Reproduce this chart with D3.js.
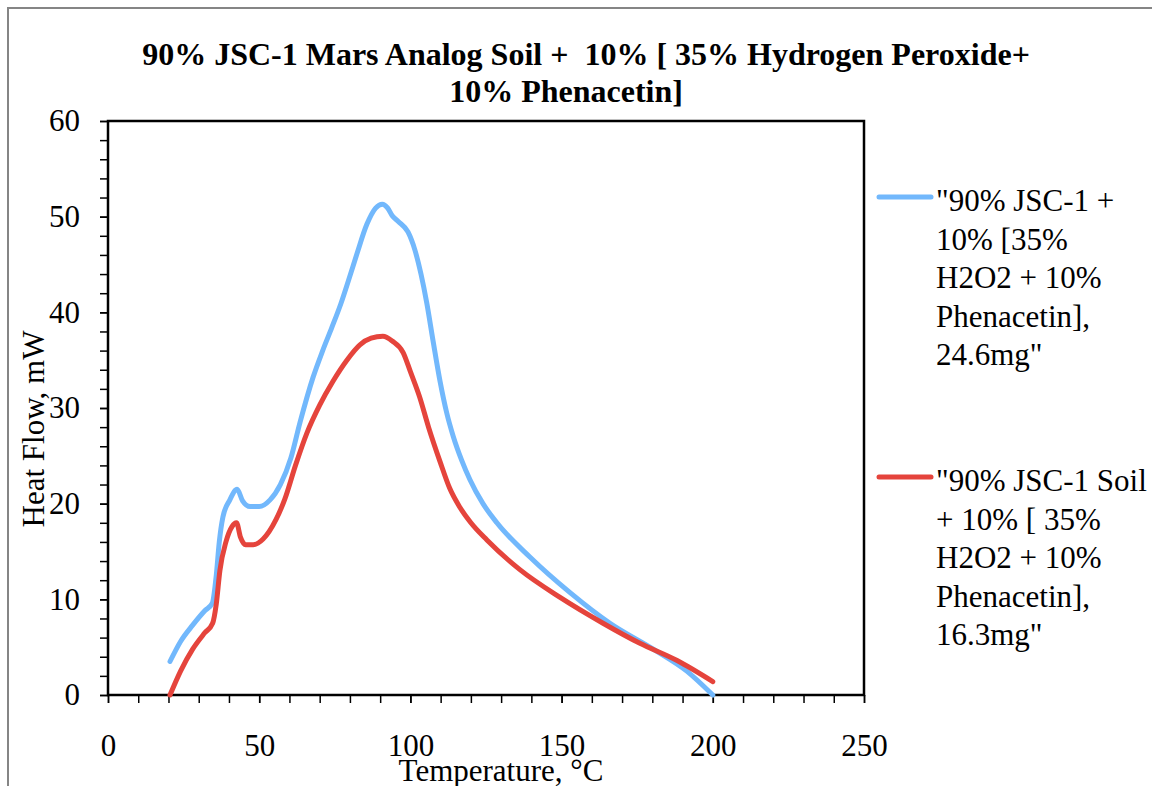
<!DOCTYPE html>
<html><head><meta charset="utf-8">
<script src="https://cdn.jsdelivr.net/npm/d3@7"></script>
<style>body{margin:0;background:#fff}svg{display:block}text{font-family:"Liberation Serif","Times New Roman",serif}</style>
</head><body>
<svg id="c" width="1152" height="786"></svg>
<script>
const titleLines = ["90% JSC-1 Mars Analog Soil +  10% [ 35% Hydrogen Peroxide+", "10% Phenacetin]"];
const xLabel = "Temperature, °C";
const yLabel = "Heat Flow, mW";
const xMajorTicks = [0, 50, 100, 150, 200, 250];
const yMajorTicks = [0, 10, 20, 30, 40, 50, 60];
const legendBlue = ["\"90% JSC-1 +", "10% [35%", "H2O2 + 10%", "Phenacetin],", "24.6mg\""];
const legendRed = ["\"90% JSC-1 Soil", "+ 10% [ 35%", "H2O2 + 10%", "Phenacetin],", "16.3mg\""];
const blueT = [20.5,24,28,32,34.5,35.8,36.8,38,40.3,42.7,44.5,47,50,53.6,57,60.5,63.5,67.8,71,74,77,80,82.3,85.6,88.5,90.7,92.5,94,96,99.2,101.5,103.5,105.4,107.5,109.8,112,114.2,117,119.7,124,128.6,139.6,152.8,166,180.3,191.4,200];
const blueH = [3.5,5.6,7.3,8.8,9.6,12.5,16,18.6,20.4,21.5,20.3,19.7,19.7,20.4,22,24.8,28.5,33.2,36,38.4,40.9,43.8,46.1,49.2,50.9,51.3,50.9,50.1,49.5,48.4,46.5,44,41,37,32.8,29.5,27,24.5,22.5,20,18,14.4,10.7,7.5,4.8,2.5,0];
const redT = [20.5,24,28,32,34.6,35.8,37,39,41,42.5,43.8,45.5,48,51.3,55.5,58.5,62,65.8,70,74.4,79,83.3,87,90.9,94,97.6,100,103,106,109.8,113,116.4,120,125.3,136.2,149.5,163.7,175.9,188.2,200];
const redH = [0,2.5,4.8,6.5,7.5,9.5,13,16,17.6,18,16.5,15.7,15.7,16.3,18.3,20.5,24,27.4,30.3,32.8,35,36.6,37.3,37.5,37,35.8,33.8,31.2,28,24.4,21.6,19.6,18,16.2,13.1,10.2,7.5,5.4,3.6,1.4];

const svg = d3.select("#c");
const L = 108, R = 864, T = 121, B = 695;
const FS = 31;
const FONT = "Liberation Serif, Times New Roman, serif";
const x = d3.scaleLinear().domain([0, 250]).range([L, R]);
const y = d3.scaleLinear().domain([0, 60]).range([B, T]);

// outer border
svg.append("rect").attr("x", 8).attr("y", 8).attr("width", 1200).attr("height", 900)
  .attr("fill", "none").attr("stroke", "#858585").attr("stroke-width", 2);

// title
titleLines.forEach((t, i) => {
  svg.append("text").attr("x", i === 0 ? 586 : 566).attr("y", 65 + i * 37)
    .attr("text-anchor", "middle").attr("font-size", 32).attr("font-weight", "bold")
    .style("white-space", "pre").text(t);
});

// axes
const gx = svg.append("g").attr("transform", `translate(0,${B})`);
gx.call(d3.axisBottom(x).tickValues(d3.range(0, 251, 10)).tickSize(8).tickFormat(""));
const gx2 = svg.append("g").attr("transform", `translate(0,${B})`);
gx2.call(d3.axisBottom(x).tickValues(xMajorTicks).tickSize(8).tickPadding(31).tickFormat(d3.format("d")));
const gy = svg.append("g").attr("transform", `translate(${L},0)`);
gy.call(d3.axisLeft(y).tickValues(d3.range(0, 61, 2)).tickSize(8).tickFormat(""));
const gy2 = svg.append("g").attr("transform", `translate(${L},0)`);
gy2.call(d3.axisLeft(y).tickValues(yMajorTicks).tickSize(8).tickPadding(20).tickFormat(d3.format("d")));
[gx, gx2, gy, gy2].forEach(g => {
  g.attr("font-family", FONT).attr("font-size", FS);
  g.select(".domain").remove();
  g.selectAll(".tick line").attr("stroke", "#000").attr("stroke-width", 1.5);
  g.selectAll(".tick text").attr("font-size", FS).attr("fill", "#000").attr("font-family", FONT)
    .style("font-family", FONT);
});

// plot frame
svg.append("rect").attr("x", L).attr("y", T).attr("width", R - L).attr("height", B - T)
  .attr("fill", "none").attr("stroke", "#000").attr("stroke-width", 2.5);

// axis labels
svg.append("text").attr("x", 501).attr("y", 781).attr("text-anchor", "middle").attr("font-size", FS).text(xLabel);
svg.append("text").attr("transform", "translate(44,429) rotate(-90)").attr("text-anchor", "middle").attr("font-size", FS).text(yLabel);

// lines
const line = d3.line().x(d => x(d[0])).y(d => y(d[1])).curve(d3.curveMonotoneX);
const blue = blueT.map((t, i) => [t, blueH[i]]);
const red = redT.map((t, i) => [t, redH[i]]);
const blueColor = "#72b8fc", redColor = "#e5443c";
svg.append("path").datum(blue).attr("d", line).attr("fill", "none").attr("stroke", blueColor)
  .attr("stroke-width", 5).attr("stroke-linecap", "round").attr("stroke-linejoin", "round");
svg.append("path").datum(red).attr("d", line).attr("fill", "none").attr("stroke", redColor)
  .attr("stroke-width", 5).attr("stroke-linecap", "round").attr("stroke-linejoin", "round");

// legend
function legend(lines, color, ly, baseline0) {
  svg.append("line").attr("x1", 879).attr("x2", 931).attr("y1", ly).attr("y2", ly)
    .attr("stroke", color).attr("stroke-width", 5).attr("stroke-linecap", "round");
  lines.forEach((t, i) => {
    svg.append("text").attr("x", 936).attr("y", baseline0 + i * 38.5).attr("font-size", FS)
      .style("white-space", "pre").text(t);
  });
}
legend(legendBlue, blueColor, 197, 211);
legend(legendRed, redColor, 477, 491);
</script>
</body></html>
